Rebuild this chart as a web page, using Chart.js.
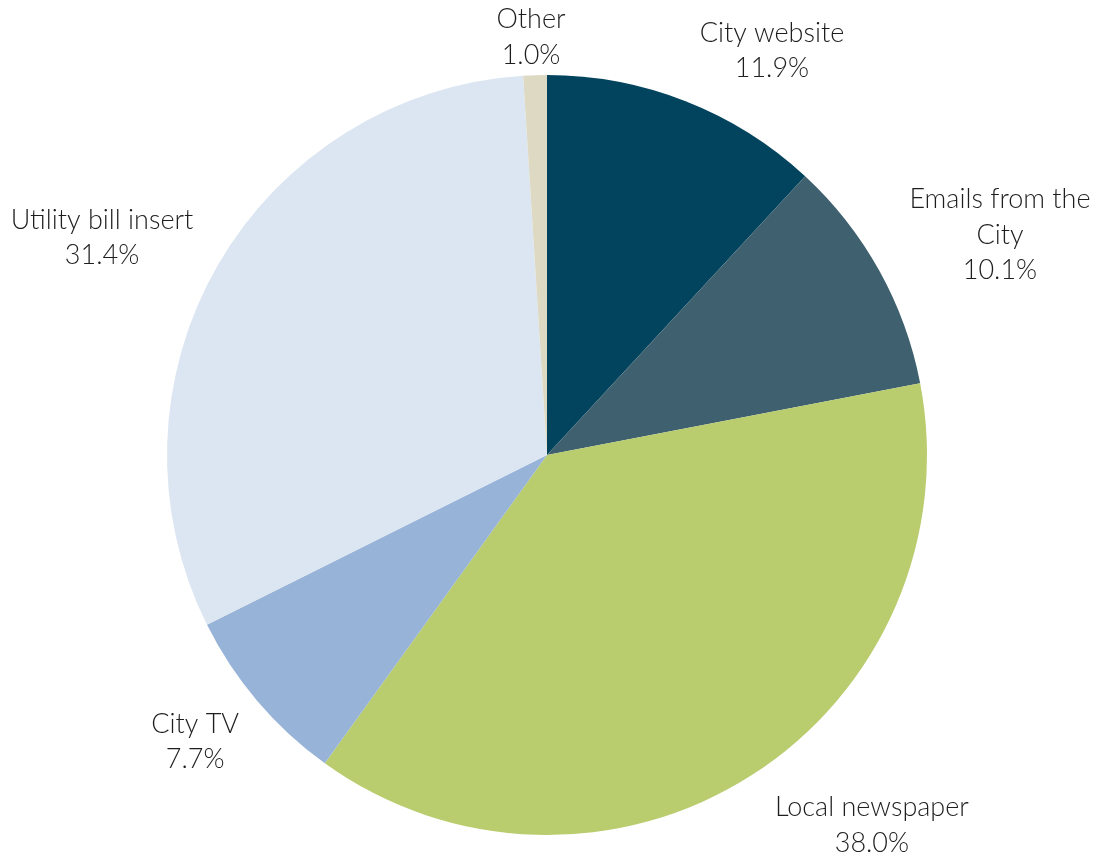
<!DOCTYPE html>
<html>
<head>
<meta charset="utf-8">
<script src="https://cdn.jsdelivr.net/npm/chart.js@4"></script>
<style>
  html, body { margin: 0; padding: 0; background: #fff; }
  #wrap { width: 1102px; height: 861px; position: relative; }
</style>
</head>
<body>
<div id="wrap"><canvas id="pieChart"></canvas></div>
<script>
const categories = ['City website', 'Emails from the City', 'Local newspaper', 'City TV', 'Utility bill insert', 'Other'];
const labelLines = [['City website'], ['Emails from the', 'City'], ['Local newspaper'], ['City TV'], ['Utility bill insert'], ['Other']];
const shares = [11.9, 10.1, 38.0, 7.7, 31.4, 1.0];
const sliceColors = ['#02445E', '#3F606F', '#B9CC6E', '#97B3D7', '#DCE6F2', '#DDD9C3'];

// where each label block sits, relative to the pie centre (in radii)
const labelSpots = [[0.592, -1.064], [1.192, -0.579], [0.855, 0.974], [-0.926, 0.755], [-1.171, -0.572], [-0.042, -1.099]];

const pieLabels = {
    id: 'pieLabels',
    afterDatasetsDraw(chart) {
        const { ctx } = chart;
        const meta = chart.getDatasetMeta(0);
        ctx.save();
        ctx.font = '300 27px Lato, "Open Sans", sans-serif';
        ctx.fillStyle = '#1e1e1e';
        ctx.textAlign = 'center';
        ctx.textBaseline = 'middle';
        const lineH = 35.5;
        meta.data.forEach((arc, i) => {
            const r = arc.outerRadius;
            const cx = arc.x + labelSpots[i][0] * r;
            const cy = arc.y + labelSpots[i][1] * r;
            const lines = labelLines[i].concat([shares[i].toFixed(1) + '%']);
            const top = cy - (lines.length - 1) * lineH / 2;
            lines.forEach((t, k) => ctx.fillText(t, cx, top + k * lineH));
        });
        ctx.restore();
    }
};

new Chart(document.getElementById('pieChart'), {
    type: 'pie',
    data: {
        labels: categories,
        datasets: [{
            data: shares,
            backgroundColor: sliceColors,
            borderWidth: 0
        }]
    },
    options: {
        responsive: true,
        maintainAspectRatio: false,
        animation: false,
        layout: { padding: { top: 75, bottom: 26, left: 167, right: 175 } },
        plugins: {
            legend: { display: false },
            tooltip: { enabled: false }
        }
    },
    plugins: [pieLabels]
});
</script>
</body>
</html>
